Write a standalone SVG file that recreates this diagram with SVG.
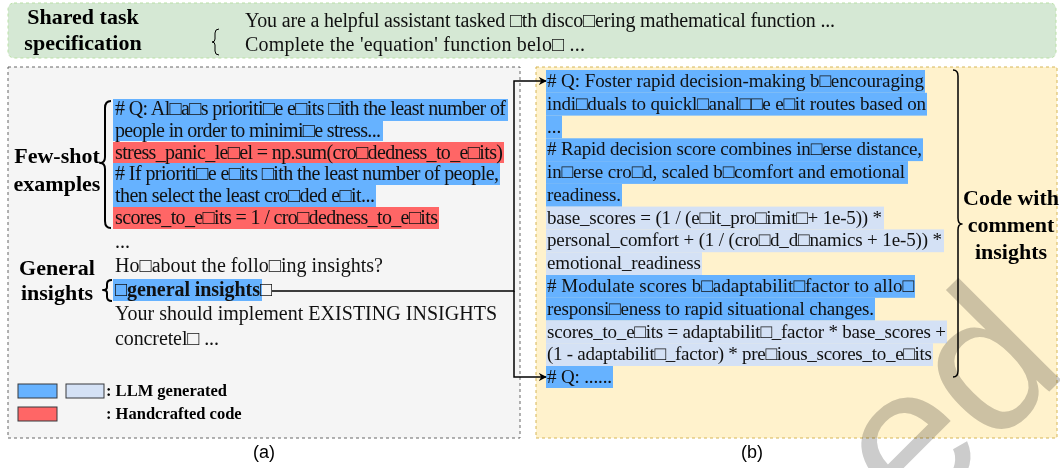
<svg xmlns="http://www.w3.org/2000/svg" width="1060" height="468" viewBox="0 0 1060 468">
  <defs>
    <style>
      .code { font-family: "Liberation Serif", "Times New Roman", serif; font-size: 20px; fill: #111; }
      .codeR { font-family: "Liberation Serif", "Times New Roman", serif; font-size: 19px; fill: #111; }
      .label { font-family: "Liberation Serif", "Times New Roman", serif; font-size: 22px; font-weight: bold; fill: #000; text-anchor: middle; }
      .legend { font-family: "Liberation Serif", "Times New Roman", serif; font-size: 16.5px; font-weight: bold; fill: #000; }
      .cap { font-family: "Liberation Sans", Arial, sans-serif; font-size: 18px; fill: #000; text-anchor: middle; }
      .hl-b { fill: #66b2ff; }
      .hl-l { fill: #d4e1f5; }
      .hl-r { fill: #ff6666; }
      .brace { fill: none; stroke: #000; stroke-linejoin: round; }
      .conn { fill: none; stroke: #000; stroke-width: 1.5; }
      .wm { font-family: "Liberation Sans", Arial, sans-serif; font-size: 200px; fill: #cccccc; mix-blend-mode: multiply; }
    </style>
    <marker id="arrow" viewBox="0 0 10 10" refX="9" refY="5" markerWidth="8" markerHeight="8" markerUnits="userSpaceOnUse" orient="auto">
      <path d="M0,0 L10,5 L0,10 L3,5 Z" fill="#000"/>
    </marker>
  </defs>

  <!-- shared task specification banner -->
  <g id="shared-spec">
    <rect x="8" y="3" width="1048" height="55" rx="6" fill="#d5e8d4" stroke="#b9e0a5" stroke-dasharray="3 3"/>
    <text class="label" x="83" y="24">Shared task</text>
    <text class="label" x="83" y="50">specification</text>
    <path class="brace" stroke-width="1" d="M219,29 Q215,29 215,33 L215,39 Q215,42 212,42 Q215,42 215,45 L215,51 Q215,55 219,55"/>
    <text class="code" x="245" y="27" textLength="590" lengthAdjust="spacing">You are a helpful assistant tasked □th disco□ering mathematical function ...</text>
    <text class="code" x="245" y="51" textLength="340" lengthAdjust="spacing">Complete the 'equation' function belo□ ...</text>
  </g>

  <!-- (a) prompt panel -->
  <g id="prompt-panel">
    <rect x="8" y="67" width="512" height="371" fill="#f5f5f5" stroke="#666" stroke-dasharray="3 3"/>
  </g>

  <g id="few-shot">
    <text class="label" x="57" y="163">Few-shot</text>
    <text class="label" x="57" y="191">examples</text>
    <path class="brace" stroke-width="2" d="M111,101 Q105,101 105,108 L105,157 Q105,163 100,163 Q105,163 105,169 L105,221 Q105,228 111,228"/>
    <rect class="hl-b" x="113" y="99" width="395" height="22"/>
    <rect class="hl-b" x="113" y="121" width="270" height="20"/>
    <rect class="hl-r" x="113" y="142" width="391" height="21"/>
    <rect class="hl-b" x="113" y="163" width="387" height="22"/>
    <rect class="hl-b" x="113" y="185" width="263" height="22"/>
    <rect class="hl-r" x="113" y="207" width="326" height="22"/>
    <text class="code" x="115" y="115" textLength="391" lengthAdjust="spacing">#&#160;Q: Al□a□s prioriti□e e□its □ith the least number of</text>
    <text class="code" x="115" y="136.8" textLength="266" lengthAdjust="spacing">people in order to minimi□e stress...</text>
    <text class="code" x="115" y="158.6" textLength="388" lengthAdjust="spacing">stress_panic_le□el = np.sum(cro□dedness_to_e□its)</text>
    <text class="code" x="115" y="180.4" textLength="384" lengthAdjust="spacing">#&#160;If prioriti□e e□its □ith the least number of people,</text>
    <text class="code" x="115" y="202.2" textLength="260" lengthAdjust="spacing">then select the least cro□ded e□it...</text>
    <text class="code" x="115" y="224" textLength="323" lengthAdjust="spacing">scores_to_e□its = 1 / cro□dedness_to_e□its</text>
    <text class="code" x="115" y="248">...</text>
    <text class="code" x="115" y="272" textLength="268" lengthAdjust="spacing">Ho□about the follo□ing insights?</text>
  </g>

  <g id="general-insights">
    <text class="label" x="57" y="275">General</text>
    <text class="label" x="57" y="300">insights</text>
    <path class="brace" stroke-width="2" d="M112,280 Q107,280 107,284 L107,287 Q107,290 103,290 Q107,290 107,293 L107,297 Q107,301 112,301"/>
    <rect class="hl-b" x="113" y="279" width="149" height="22"/>
    <text class="code" x="115" y="296" font-weight="bold" textLength="157" lengthAdjust="spacing">□general insights□</text>
    <text class="code" x="115" y="320" textLength="382" lengthAdjust="spacing">Your should implement EXISTING INSIGHTS</text>
    <text class="code" x="115" y="345" textLength="104" lengthAdjust="spacing">concretel□ ...</text>
  </g>

  <g id="legend">
    <rect class="hl-b" x="18" y="384" width="39" height="14" stroke="#36393d"/>
    <rect class="hl-l" x="66" y="384" width="38" height="14" stroke="#36393d"/>
    <rect class="hl-r" x="18" y="407" width="39" height="14" stroke="#36393d"/>
    <text class="legend" x="106" y="396">: LLM generated</text>
    <text class="legend" x="106" y="419">: Handcrafted code</text>
  </g>

  <!-- (b) generated code panel -->
  <g id="code-panel">
    <rect x="536" y="67" width="521" height="371" fill="#fff2cc" stroke="#d6b656" stroke-dasharray="3 3"/>
    <rect class="hl-b" x="546" y="70" width="379" height="22.8"/>
    <rect class="hl-b" x="546" y="92.8" width="381" height="22.8"/>
    <rect class="hl-b" x="546" y="115.5" width="16" height="22.8"/>
    <rect class="hl-b" x="546" y="138.3" width="377" height="22.8"/>
    <rect class="hl-b" x="546" y="161.1" width="362" height="22.8"/>
    <rect class="hl-b" x="546" y="183.9" width="76" height="22.8"/>
    <rect class="hl-l" x="546" y="206.6" width="338" height="22.8"/>
    <rect class="hl-l" x="546" y="229.4" width="398" height="22.8"/>
    <rect class="hl-l" x="546" y="252.2" width="156" height="22.8"/>
    <rect class="hl-b" x="546" y="275" width="369" height="22.8"/>
    <rect class="hl-b" x="546" y="297.7" width="329" height="22.8"/>
    <rect class="hl-l" x="546" y="320.5" width="401" height="22.8"/>
    <rect class="hl-l" x="546" y="343.2" width="387" height="22.8"/>
    <rect class="hl-b" x="546" y="366" width="67" height="22"/>
    <text class="codeR" x="547" y="87" textLength="377" lengthAdjust="spacing">#&#160;Q: Foster rapid decision-making b□encouraging</text>
    <text class="codeR" x="547" y="109.8" textLength="379" lengthAdjust="spacing">indi□duals to quickl□anal□□e e□it routes based on</text>
    <text class="codeR" x="547" y="132.5">...</text>
    <text class="codeR" x="547" y="155.3" textLength="375" lengthAdjust="spacing">#&#160;Rapid decision score combines in□erse distance,</text>
    <text class="codeR" x="547" y="178.1" textLength="358" lengthAdjust="spacing">in□erse cro□d, scaled b□comfort and emotional</text>
    <text class="codeR" x="547" y="200.9" textLength="74" lengthAdjust="spacing">readiness.</text>
    <text class="codeR" x="547" y="223.6" textLength="335" lengthAdjust="spacing">base_scores = (1 / (e□it_pro□imit□+ 1e-5)) *</text>
    <text class="codeR" x="547" y="246.4" textLength="395" lengthAdjust="spacing">personal_comfort + (1 / (cro□d_d□namics + 1e-5)) *</text>
    <text class="codeR" x="547" y="269.2" textLength="154" lengthAdjust="spacing">emotional_readiness</text>
    <text class="codeR" x="547" y="292" textLength="367" lengthAdjust="spacing">#&#160;Modulate scores b□adaptabilit□factor to allo□</text>
    <text class="codeR" x="547" y="314.7" textLength="327" lengthAdjust="spacing">responsi□eness to rapid situational changes.</text>
    <text class="codeR" x="547" y="337.5" textLength="399" lengthAdjust="spacing">scores_to_e□its = adaptabilit□_factor * base_scores +</text>
    <text class="codeR" x="547" y="360.2" textLength="385" lengthAdjust="spacing">(1 - adaptabilit□_factor) * pre□ious_scores_to_e□its</text>
    <text class="codeR" x="547" y="383" textLength="65" lengthAdjust="spacing">#&#160;Q: ......</text>
  </g>

  <g id="code-insights">
    <path class="brace" stroke-width="1.5" d="M953,70 Q958,70 958,76 L958,218 Q958,224 962,224 Q958,224 958,230 L958,371 Q958,377 953,377"/>
    <text class="label" x="1011" y="205">Code with</text>
    <text class="label" x="1011" y="232">comment</text>
    <text class="label" x="1011" y="259">insights</text>
  </g>

  <!-- insight slot feeding both comment positions -->
  <g id="connectors">
    <path class="conn" d="M272,291 H514 V81 H546" marker-end="url(#arrow)"/>
    <path class="conn" d="M514,291 V377 H546" marker-end="url(#arrow)"/>
  </g>

  <text class="cap" x="264" y="458">(a)</text>
  <text class="cap" x="752" y="458">(b)</text>

  <!-- watermark -->
  <text class="wm" transform="translate(913,528) rotate(-45)">ed</text>
</svg>
